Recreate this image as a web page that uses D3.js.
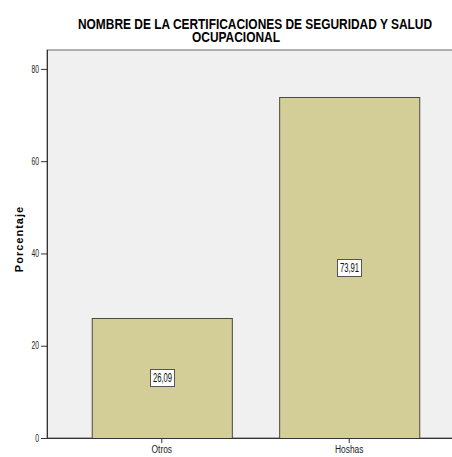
<!DOCTYPE html>
<html lang="es">
<head>
<meta charset="UTF-8">
<title>Certificaciones</title>
<script src="https://d3js.org/d3.v7.min.js"></script>
<style>
    body { margin: 0; background: #ffffff; }
    svg { display: block; }
    text { font-family: "Liberation Sans", Arial, sans-serif; }
</style>
</head>
<body>
<svg id="chart" width="452" height="457"></svg>
<script>
    // data
    let categories = ["Otros", "Hoshas"];
    let values = [26.09, 73.91];
    let valueLabels = ["26,09", "73,91"];
    let yTicks = [0, 20, 40, 60, 80];

    let svg = d3.select("#chart");
    let plotLeft = 47, plotTop = 50, plotBottom = 438, plotRight = 464;

    // squeeze text horizontally, like the condensed SPSS font
    function squeeze(sel, f) {
        sel.each(function () {
            let w = this.getComputedTextLength();
            d3.select(this).attr("textLength", w * f).attr("lengthAdjust", "spacingAndGlyphs");
        });
    }

    let y = d3.scaleLinear().domain([0, 84.1]).range([plotBottom, plotTop]);
    let x = d3.scaleBand().domain(categories).range([plotLeft, plotRight])
        .paddingInner(0.2525).paddingOuter(0.2387);

    // plot background + frame
    svg.append("rect").attr("x", plotLeft).attr("y", plotTop)
        .attr("width", plotRight - plotLeft).attr("height", plotBottom - plotTop)
        .attr("fill", "#f0f0f0").attr("stroke", "#6b6b6b").attr("stroke-width", 1);

    // bars
    svg.selectAll("rect.bar").data(values).enter().append("rect")
        .attr("class", "bar")
        .attr("x", (d, i) => x(categories[i]) + 0.5)
        .attr("y", d => Math.round(y(d)) + 0.5)
        .attr("width", x.bandwidth())
        .attr("height", d => plotBottom - Math.round(y(d)))
        .attr("fill", "#d3ce98")
        .attr("stroke", "#4a4a3c").attr("stroke-width", 1);

    // value labels
    let lab = svg.selectAll("g.lab").data(values).enter().append("g")
        .attr("class", "lab")
        .attr("transform", (d, i) => "translate(" + Math.round(x(categories[i]) + x.bandwidth() / 2) + "," + Math.round((y(d) + plotBottom) / 2) + ")");
    lab.append("rect").attr("x", -11.5).attr("y", -8.5).attr("width", 24).attr("height", 17)
        .attr("fill", "#ffffff").attr("stroke", "#555555").attr("stroke-width", 1);
    lab.append("text")
        .attr("text-anchor", "middle").attr("x", 0.5).attr("dy", "0.36em")
        .attr("font-size", 12).attr("fill", "#111")
        .text((d, i) => valueLabels[i])
        .call(squeeze, 0.64);

    // y axis
    let yAxis = d3.axisLeft(y).tickValues(yTicks).tickSize(6).tickPadding(2);
    let gy = svg.append("g").attr("transform", "translate(" + plotLeft + ",0)").call(yAxis);
    gy.select(".domain").attr("stroke", "#333").attr("d", "M0.5," + plotTop + "V" + plotBottom);
    gy.selectAll(".tick line").attr("stroke", "#333");
    gy.selectAll(".tick text").attr("font-size", 10).attr("fill", "#222")
        .attr("font-family", "Liberation Sans, Arial, sans-serif").call(squeeze, 0.68);

    // x axis
    let xAxis = d3.axisBottom(x).tickSize(5).tickPadding(3);
    let gx = svg.append("g").attr("transform", "translate(0," + plotBottom + ")").call(xAxis);
    gx.select(".domain").attr("stroke", "#333").attr("d", "M" + plotLeft + ",0.5H" + plotRight);
    gx.selectAll(".tick line").attr("stroke", "#333");
    gx.selectAll(".tick text").attr("font-size", 10).attr("fill", "#222")
        .attr("font-family", "Liberation Sans, Arial, sans-serif").call(squeeze, 0.84);

    // axis title
    svg.append("text")
        .attr("transform", "translate(23,239) rotate(-90)")
        .attr("text-anchor", "middle")
        .attr("font-weight", "bold").attr("font-size", 11)
        .attr("letter-spacing", 1)
        .text("Porcentaje");

    // title
    svg.append("text")
        .attr("x", 78).attr("y", 29)
        .attr("font-weight", "bold").attr("font-size", 14)
        .attr("textLength", 354).attr("lengthAdjust", "spacingAndGlyphs")
        .text("NOMBRE DE LA CERTIFICACIONES DE SEGURIDAD Y SALUD");
    svg.append("text")
        .attr("x", 192).attr("y", 42)
        .attr("font-weight", "bold").attr("font-size", 14)
        .attr("textLength", 88).attr("lengthAdjust", "spacingAndGlyphs")
        .text("OCUPACIONAL");
</script>
</body>
</html>
